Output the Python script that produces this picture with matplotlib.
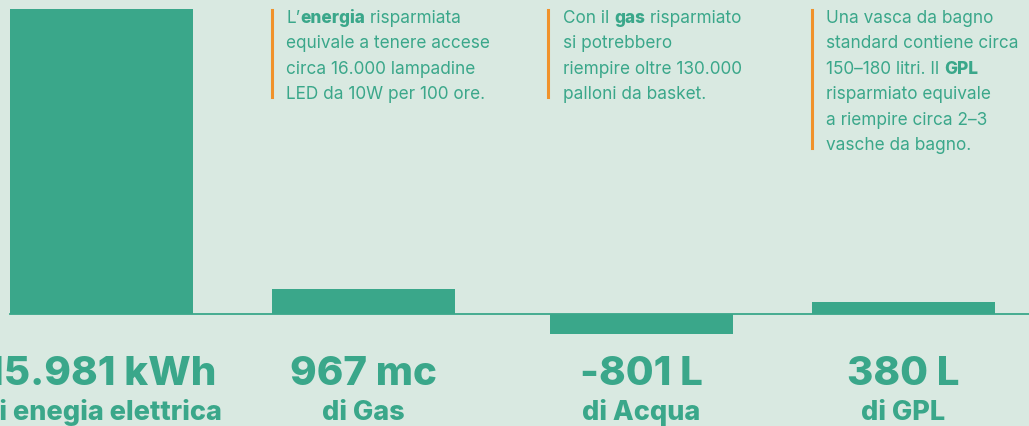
import matplotlib
matplotlib.use("Agg")
import matplotlib.pyplot as plt
from matplotlib.transforms import blended_transform_factory

# data
categories = ["di enegia elettrica", "di Gas", "di Acqua", "di GPL"]
value_labels = ["15.981 kWh", "967 mc", "-801 L", "380 L"]
bar_heights = [15981, 1310, -1025, 630]   # drawn heights (not to scale with labels)

notes = [
    [[("L’", False), ("energia", True), (" risparmiata", False)],
     [("equivale a tenere accese", False)],
     [("circa 16.000 lampadine", False)],
     [("LED da 10W per 100 ore.", False)]],
    [[("Con il ", False), ("gas", True), (" risparmiato", False)],
     [("si potrebbero", False)],
     [("riempire oltre 130.000", False)],
     [("palloni da basket.", False)]],
    [[("Una vasca da bagno", False)],
     [("standard contiene circa", False)],
     [("150–180 litri. Il ", False), ("GPL", True)],
     [("risparmiato equivale", False)],
     [("a riempire circa 2–3", False)],
     [("vasche da bagno.", False)]],
]

BG = "#d9e9e1"
TEAL = "#3aa78a"
ORANGE = "#f0922b"
W, H = 1029, 426

plt.rcParams["font.family"] = ["Inter", "DejaVu Sans"]

fig = plt.figure(figsize=(W / 100, H / 100), dpi=100, facecolor=BG)
ax = fig.add_axes([0, 0, 1, 1])
ax.set_facecolor(BG)
ax.set_axis_off()

# pixel layout: baseline 314 px from top, tallest bar top at 9 px
px_per_unit = (314 - 9) / bar_heights[0]
ax.set_xlim(0, W)
ax.set_ylim(-(H - 314) / px_per_unit, 314 / px_per_unit)

centers = [101.5, 363.5, 641.5, 903.5]
ax.bar(centers, bar_heights, width=183, color=TEAL, zorder=2)
ax.plot([10, W], [0, 0], color=TEAL, lw=1.3, zorder=1)

tr = blended_transform_factory(ax.transData, ax.transAxes)
for cx, lab, cat in zip(centers, value_labels, categories):
    ax.text(cx, 1 - 385 / H, lab, transform=tr, ha="center", va="baseline",
            fontsize=29, fontweight="heavy", color=TEAL)
    ax.text(cx, 1 - 420 / H, cat, transform=tr, ha="center", va="baseline",
            fontsize=19.5, fontweight="heavy", color=TEAL)

renderer = fig.canvas.get_renderer()


def text_width(s, weight, size):
    # measure with bars on both ends so spaces are counted
    t = fig.text(0, 0, "|" + s + "|", fontsize=size, fontweight=weight)
    p = fig.text(0, 0, "||", fontsize=size, fontweight=weight)
    w = t.get_window_extent(renderer).width - p.get_window_extent(renderer).width
    t.remove()
    p.remove()
    return w


note_x = [286, 563, 826]
bar_x = [272, 548, 812]
fs = 12.4
line_gap = 25.4
for nx, bx, lines in zip(note_x, bar_x, notes):
    for i, segs in enumerate(lines):
        y = 23 + i * line_gap
        x = nx
        for s, bold in segs:
            wgt = "heavy" if bold else "normal"
            fig.text(x / W, 1 - y / H, s, fontsize=fs, fontweight=wgt,
                     color=TEAL, ha="left", va="baseline")
            x += text_width(s, wgt, fs)
    bottom = 23 + (len(lines) - 1) * line_gap - 2
    fig.add_artist(plt.Line2D([bx / W, bx / W], [1 - 10 / H, 1 - bottom / H],
                              color=ORANGE, lw=2.2, transform=fig.transFigure))

fig.savefig("out.png", dpi=100, facecolor=BG)
